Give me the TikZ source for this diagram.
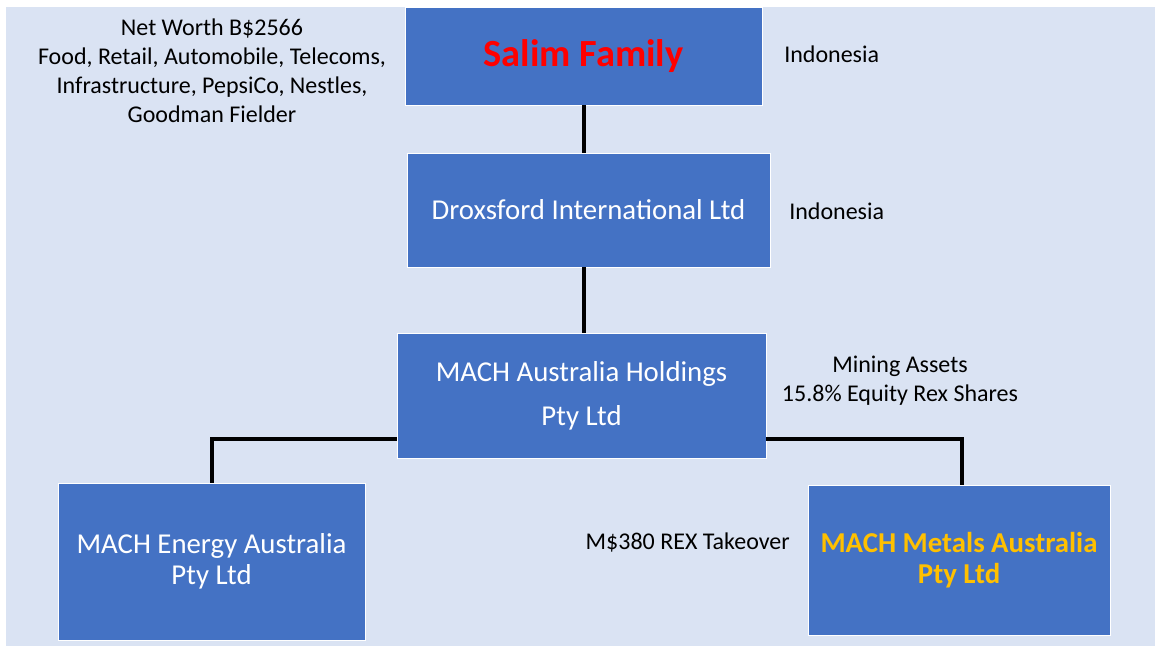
\documentclass[tikz,border=0pt]{standalone}
\usepackage{fontspec}
\setmainfont{Carlito}
\usepackage{tikz}
\usetikzlibrary{calc,positioning}
\definecolor{boxblue}{HTML}{4472C4}
\definecolor{slidebg}{HTML}{DAE3F3}
\definecolor{gold}{HTML}{FFC000}
\tikzset{
    mybox/.style={rectangle,fill=boxblue,draw=white,line width=0.6pt,inner sep=0pt,
                  text=white,align=center,font=\fontsize{21.6}{23.3}\selectfont},
    mynote/.style={align=center,text=black,font=\fontsize{18}{21.8}\selectfont,inner sep=0pt},
    myline/.style={line width=3pt,draw=black},
}
\begin{document}
\begin{tikzpicture}[x=0.75pt,y=-0.75pt]
  \useasboundingbox (0,0) rectangle (1155,648);
  \fill[white] (0,0) rectangle (1155,648);
  \fill[slidebg] (6,7) rectangle (1155,646);

  \node[mybox,minimum width=357*0.75pt,minimum height=98*0.75pt]
    (salim) at (583.5,56) {\fontsize{28.8}{30}\selectfont\bfseries\color{red}Salim Family};
  \node[mybox,minimum width=363*0.75pt,minimum height=114*0.75pt]
    (drox) at (588.5,210) {Droxsford International Ltd};
  \node[mybox,minimum width=369*0.75pt,minimum height=125*0.75pt,
        font=\fontsize{21.6}{33}\selectfont]
    (hold) at (581.5,395.5) {MACH Australia Holdings\\Pty Ltd};
  \node[mybox,minimum width=307*0.75pt,minimum height=157*0.75pt]
    (energy) at (211.5,561.5) {MACH Energy Australia\\Pty Ltd};
  \node[mybox,minimum width=302*0.75pt,minimum height=150*0.75pt,text=gold,
        font=\fontsize{21.6}{23.3}\selectfont\bfseries]
    (metals) at (959,560) {MACH Metals Australia\\Pty Ltd};

  \node[mynote] (worth) at (212,70.5)
    {Net Worth B\$2566\\Food, Retail, Automobile, Telecoms,\\Infrastructure, PepsiCo, Nestles,\\Goodman Fielder};
  \node[mynote,anchor=west] (indo1) at (784,54) {Indonesia};
  \node[mynote,anchor=west] (indo2) at (789,211) {Indonesia};
  \node[mynote] (mining) at (900,380.5) {Mining Assets\\15.8\% Equity Rex Shares};
  \node[mynote,anchor=east] (takeover) at (790,543) {M\$380 REX Takeover};

  \draw[myline] (salim.south) -- (salim.south |- drox.north);
  \draw[myline] (salim.south |- drox.south) -- (salim.south |- hold.north);
  \draw[myline] ($(hold.west)+(0,43)$) -| (energy.north);
  \draw[myline] ($(hold.east)+(0,43)$) -| ($(metals.north)+(3,0)$);
\end{tikzpicture}
\end{document}
